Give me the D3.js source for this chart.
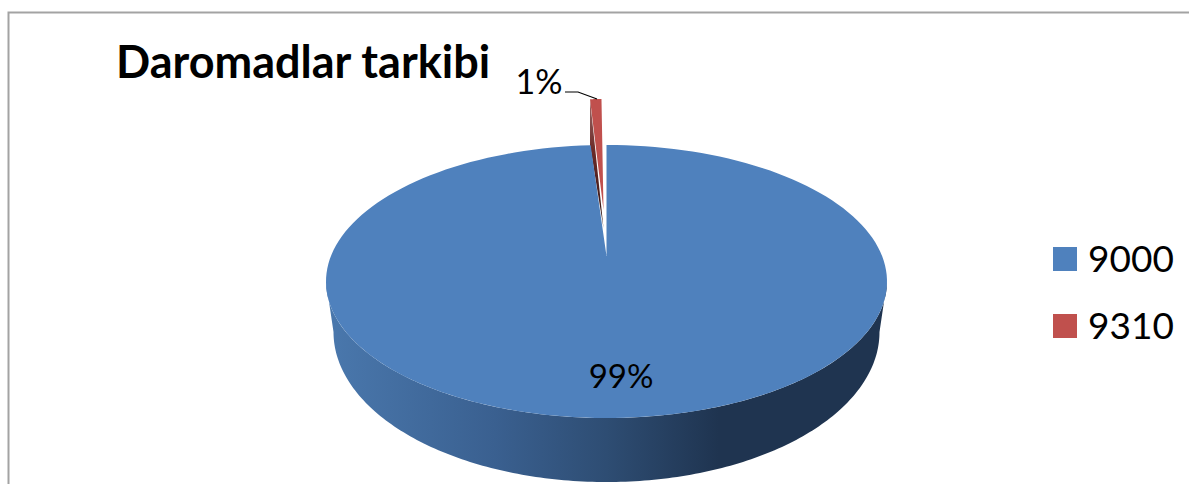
<!DOCTYPE html>
<html><head><meta charset="utf-8">
<script src="https://cdnjs.cloudflare.com/ajax/libs/d3/7.8.5/d3.min.js"></script>
<style>html,body{margin:0;padding:0;background:#fff;overflow:hidden}svg{display:block}text{font-family:Lato,"Open Sans",sans-serif;fill:#000}</style>
</head><body><svg id="c" width="1189" height="484"></svg>
<script>
const categories = ["9000", "9310"];
const values = [99.1, 0.9];
const colors = ["#4f81bd", "#c0504d"];
const chartTitle = "Daromadlar tarkibi";

const svg = d3.select("#c");
const W = 1189, H = 484;
svg.append("path").attr("d", `M${W},12.5H8.5V${H}`).attr("fill", "none").attr("stroke", "#a3a3a3").attr("stroke-width", 2);

const defs = svg.append("defs");
const grad = defs.append("linearGradient").attr("id", "wall").attr("gradientUnits", "userSpaceOnUse")
  .attr("x1", 326).attr("x2", 887).attr("y1", 0).attr("y2", 0);
[[0, "#4a78ad"], [0.3, "#3a6090"], [0.5, "#2e4d73"], [0.7, "#1f3450"], [1, "#1f3450"]]
  .forEach(s => grad.append("stop").attr("offset", s[0]).attr("stop-color", s[1]));
const gradD = defs.append("linearGradient").attr("id", "dark").attr("x1", 0).attr("x2", 0).attr("y1", 0).attr("y2", 1);
[[0, "#9a6a68"], [0.4, "#6b2a28"], [1, "#2e1614"]]
  .forEach(s => gradD.append("stop").attr("offset", s[0]).attr("stop-color", s[1]));

// geometry of the tilted pie
const cx = 606.5, cy = 281.5, rx = 280.5, ry = 136.5, apexY = 256;
const bcy = 332, brx = 273, bry = 150;

const arcs = d3.pie().sort(null).value(d => d)(values);
const line = d3.line();
const onEllipse = (a, o = {}) => [
  (o.cx ?? cx) + (o.rx ?? rx) * Math.sin(a),
  (o.cy ?? cy) - (o.ry ?? ry) * Math.cos(a)
];
const sweep = (a0, a1, o) => d3.range(0, 1.0001, 1 / 180).map(t => onEllipse(a0 + (a1 - a0) * t, o));

// side wall
const wallPts = [
  ...sweep(Math.PI * 1.5, Math.PI * 0.5),
  ...sweep(Math.PI * 0.5, Math.PI * 1.5, {cy: bcy, rx: brx, ry: bry})
];
svg.append("path").attr("d", line(wallPts) + "Z").attr("fill", "url(#wall)");

// exploded small slice: offsets
const dx = -3, dy = -46, rxS = 0.85 * rx;
const s = arcs[1];
const redApex = [cx + dx, apexY + dy];
const outer = sweep(s.startAngle, s.endAngle, {cx: cx + dx, cy: cy + dy, rx: rxS});
// dark inner side of the slice
svg.append("path").attr("d", line([
  outer[0], [redApex[0], redApex[1] + 18], [outer[0][0], outer[0][1] + 46], ...outer.slice(0, 1)
]) + "Z").attr("fill", "url(#dark)");

// main slice top
const m = arcs[0];
svg.append("path").attr("d", line([[cx, apexY], ...sweep(m.startAngle, m.endAngle)]) + "Z").attr("fill", colors[0]);

// small slice top
const inset = sweep(s.startAngle, s.startAngle + (s.endAngle - s.startAngle) * 0.85, {cx: cx + dx, cy: cy + dy, rx: rxS});
svg.append("path").attr("d", line([redApex, ...inset]) + "Z").attr("fill", colors[1]);

// labels
const pct = d3.format(".0%");
const total = d3.sum(values);
svg.append("text").attr("x", 621).attr("y", 388).attr("text-anchor", "middle").attr("font-size", 33).text(pct(values[0] / total));
svg.append("text").attr("x", 539).attr("y", 94).attr("text-anchor", "middle").attr("font-size", 34).text(pct(values[1] / total));
svg.append("path").attr("d", "M565,92H578L597,99").attr("fill", "none").attr("stroke", "#000").attr("stroke-width", 1.2);

// title
svg.append("text").attr("x", 116).attr("y", 78).attr("font-size", 45).attr("font-weight", 700).text(chartTitle);

// legend
const ly = d3.scalePoint().domain(categories).range([259, 326]);
const lg = svg.selectAll(".lg").data(categories).join("g").attr("class", "lg");
lg.append("rect").attr("x", 1053).attr("y", d => ly(d) - 12).attr("width", 24).attr("height", 24).attr("fill", (d, i) => colors[i]);
lg.append("text").attr("x", 1088).attr("y", d => ly(d) + 13).attr("font-size", 37).text(d => d);
</script></body></html>
